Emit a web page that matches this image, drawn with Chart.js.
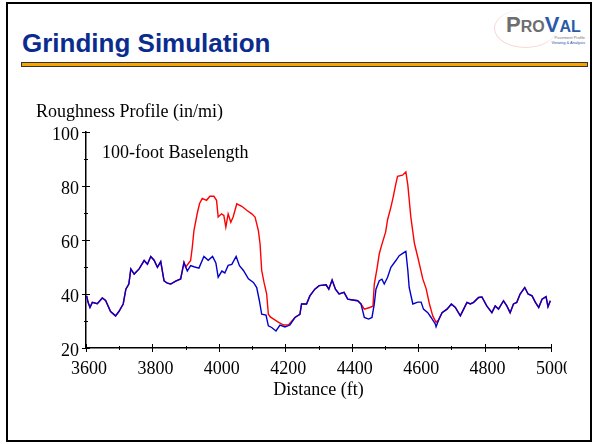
<!DOCTYPE html>
<html>
<head>
<meta charset="utf-8">
<script src="https://cdn.jsdelivr.net/npm/chart.js@4.4.1/dist/chart.umd.min.js"></script>
<style>
html,body{margin:0;padding:0;background:#fff;}
#slide{position:relative;width:596px;height:444px;overflow:hidden;background:#fff;}
#frame{position:absolute;left:6px;top:2px;width:582px;height:436px;border:2px solid #000;}
#title{position:absolute;left:22px;top:30px;font:bold 26px/26px "Liberation Sans",Arial,sans-serif;color:#0b2c8f;white-space:nowrap;}
#rule{position:absolute;left:21px;top:62px;width:565px;height:3px;background:#f7a400;border:1px solid #333;}
#logo{position:absolute;left:500px;top:12px;width:88px;height:34px;}
#logo .arc{position:absolute;left:-6px;top:-3px;width:62px;height:38px;border-radius:50%;border-left:1px solid rgba(220,60,60,0.2);border-bottom:1px solid rgba(220,60,60,0.2);}
#logo .name{position:absolute;left:6px;top:2px;font:bold 22px/22px "Liberation Sans",Arial,sans-serif;white-space:nowrap;}
#logo .pro{color:#6e6e6e;}
#logo .val{color:#2a5aa8;}
#logo .sm{font-size:16px;}
#logo .tag{position:absolute;right:3px;font:4px/5px "Liberation Sans",Arial,sans-serif;color:#777;white-space:nowrap;}
#ylab{position:absolute;left:36px;top:102px;font:18px/18px "Liberation Serif","Times New Roman",serif;color:#000;white-space:nowrap;}
#note{position:absolute;left:102px;top:143px;font:18px/18px "Liberation Serif","Times New Roman",serif;color:#000;white-space:nowrap;}
#wrap{position:absolute;left:0;top:0;width:567px;height:444px;}
</style>
</head>
<body>
<div id="slide">
  <div id="frame"></div>
  <div id="title">Grinding Simulation</div>
  <div id="rule"></div>
  <div id="logo">
    <div class="arc"></div>
    <div class="name"><span class="pro">P<span class="sm">RO</span></span><span class="val">V<span class="sm">AL</span></span></div>
    <div class="tag" style="top:23px;">Pavement Profile</div>
    <div class="tag" style="top:28px;color:#2a5aa8;">Viewing &amp; Analysis</div>
  </div>
  <div id="wrap"><canvas id="c"></canvas></div>
  <div id="ylab">Roughness Profile (in/mi)</div>
  <div id="note">100-foot Baselength</div>
</div>
<script>
// Blue profile (after grinding)
const blueDistance = [3602,3606,3612,3619,3634,3649,3659,3674,3689,3699,3712,3720,3729,3735,3745,3760,3775,3785,3795,3805,3815,3825,3835,3845,3855,3870,3885,3895,3905,3915,3925,3940,3955,3968,3981,3991,3998,4009,4018,4028,4039,4052,4062,4074,4089,4104,4114,4122,4129,4142,4149,4159,4172,4184,4199,4214,4229,4244,4249,4264,4274,4289,4302,4323,4331,4341,4351,4362,4377,4388,4403,4418,4428,4438,4451,4461,4468,4473,4483,4491,4498,4508,4518,4533,4543,4558,4563,4569,4573,4584,4599,4609,4616,4629,4639,4652,4654,4662,4672,4687,4700,4712,4727,4737,4747,4757,4767,4782,4792,4807,4822,4832,4842,4857,4867,4877,4887,4897,4907,4921,4931,4943,4953,4963,4973,4985,4991,4998];
const blueRoughness = [39.3,37.0,35.0,36.9,36.4,38.5,37.6,33.5,31.9,33.5,36.3,41.8,43.7,49.3,47.4,49.3,52.4,51.0,53.9,52.5,49.9,52.0,44.9,44.0,43.7,44.8,45.6,51.7,48.5,50.5,50.1,49.6,53.9,52.5,53.9,51.5,46.2,48.5,47.8,50.6,51.0,53.9,50.5,48.7,45.6,44.3,42.4,37.5,32.5,32.2,28.2,27.6,26.3,28.5,27.8,28.5,31.3,32.5,36.3,36.3,39.3,41.8,43.1,43.4,41.8,45.2,41.8,40.0,40.6,38.1,37.8,37.5,36.3,31.3,30.7,31.3,36.3,41.8,44.9,45.5,43.7,46.2,49.9,52.4,54.2,55.4,55.8,48.7,42.4,36.3,37.0,37.0,34.4,33.1,31.3,28.8,27.9,30.5,33.1,34.4,36.3,35.0,31.9,34.4,36.9,36.3,36.9,38.7,38.9,35.5,33.1,35.6,34.4,37.5,35.6,33.1,36.3,36.9,40.0,42.4,40.0,39.3,36.9,35.0,38.1,39.0,35.3,37.5];

// Red profile (before grinding)
const redDistance = [3602,3606,3612,3619,3634,3649,3659,3674,3689,3699,3712,3720,3729,3735,3745,3760,3775,3785,3795,3805,3815,3825,3835,3845,3855,3870,3885,3895,3900,3915,3920,3925,3935,3942,3950,3963,3973,3985,3993,3998,4008,4015,4021,4028,4036,4043,4054,4069,4084,4099,4109,4119,4124,4129,4136,4144,4149,4155,4165,4180,4195,4210,4229,4244,4249,4264,4274,4289,4302,4323,4331,4341,4351,4362,4377,4388,4403,4418,4428,4438,4454,4464,4468,4476,4483,4490,4502,4508,4518,4525,4533,4538,4553,4563,4569,4578,4589,4599,4614,4624,4634,4644,4654,4662,4672,4687,4700,4712,4727,4737,4747,4757,4767,4782,4792,4807,4822,4832,4842,4857,4867,4877,4887,4897,4907,4921,4931,4943,4953,4963,4973,4985,4991,4998];
const redRoughness = [39.3,37.0,35.0,36.9,36.4,38.5,37.6,33.5,31.9,33.5,36.3,41.8,43.7,49.3,47.4,49.3,52.4,51.0,53.9,52.5,49.9,52.0,44.9,44.0,43.7,44.8,45.6,51.7,49.9,52.4,57.3,63.5,69.9,73.5,75.4,74.7,76.2,76.2,74.7,68.5,69.7,69.1,64.8,69.7,66.6,68.5,73.4,72.5,71.0,69.7,68.5,63.5,58.6,48.7,44.3,40.0,32.5,31.5,30.7,29.5,28.5,28.6,31.3,32.5,36.3,36.3,39.3,41.8,43.1,43.4,41.8,45.2,41.8,40.0,40.6,38.1,37.8,37.5,36.3,34.4,35.0,35.5,43.7,49.3,54.9,58.0,62.9,67.5,72.2,76.0,80.9,83.6,84.0,85.2,80.3,68.5,58.6,53.6,45.6,42.0,36.3,31.9,29.5,30.5,33.1,34.4,36.3,35.0,31.9,34.4,36.9,36.3,36.9,38.7,38.9,35.5,33.1,35.6,34.4,37.5,35.6,33.1,36.3,36.9,40.0,42.4,40.0,39.3,36.9,35.0,38.1,39.0,35.3,37.5];

// Axis ticks
const xTickLabels = [3600,3800,4000,4200,4400,4600,4800,5000];
const xMinorTicks = [3700,3900,4100,4300,4500,4700,4900];
const yTickLabels = [20,40,60,80,100];
const yMinorTicks = [30,50,70,90];

const toPoints = (xs, ys) => xs.map((d, i) => ({x: d, y: ys[i]}));

const crossTicks = {
  id: 'crossTicks',
  afterDraw(chart) {
    const {ctx, chartArea: a, scales: {x, y}} = chart;
    ctx.save();
    ctx.strokeStyle = '#000';
    ctx.lineWidth = 1;
    ctx.beginPath();
    const xt = (v, len) => { const p = Math.round(x.getPixelForValue(v)) + 0.5; ctx.moveTo(p, a.bottom - len); ctx.lineTo(p, a.bottom + len); };
    const yt = (v, len) => { const p = Math.round(y.getPixelForValue(v)) + 0.5; ctx.moveTo(a.left - len, p); ctx.lineTo(a.left + len, p); };
    xTickLabels.forEach(v => xt(v, 4));
    xMinorTicks.forEach(v => xt(v, 2));
    yTickLabels.forEach(v => yt(v, 4));
    yMinorTicks.forEach(v => yt(v, 2));
    ctx.stroke();
    ctx.restore();
  }
};

const serif = '"Liberation Serif","Times New Roman",serif';

new Chart(document.getElementById('c'), {
  type: 'line',
  data: {
    datasets: [
      {label: 'After grinding', data: toPoints(blueDistance, blueRoughness), borderColor: '#0000cc', borderWidth: 1.4, pointRadius: 0, tension: 0, fill: false},
      {label: 'Before grinding', data: toPoints(redDistance, redRoughness), borderColor: '#ff0000', borderWidth: 1.4, pointRadius: 0, tension: 0, fill: false}
    ]
  },
  options: {
    responsive: true,
    maintainAspectRatio: false,
    animation: false,
    layout: {padding: {left: 30, right: 16, top: 132, bottom: 36}},
    plugins: {legend: {display: false}, tooltip: {enabled: false}, title: {display: false}},
    scales: {
      x: {
        type: 'linear', min: 3600, max: 5000,
        afterBuildTicks: s => { s.ticks = xTickLabels.map(v => ({value: v})); },
        afterFit: s => { s.height = 60; s.paddingLeft = 0; s.paddingRight = 0; },
        grid: {display: false, drawTicks: false},
        border: {display: true, color: '#000', width: 1.5},
        ticks: {color: '#000', padding: 10, labelOffset: 3, maxRotation: 0, autoSkip: false, font: {family: serif, size: 18}, callback: v => String(v)},
        title: {display: true, text: 'Distance (ft)', color: '#000', font: {family: serif, size: 18}, padding: {top: 0, bottom: 7}}
      },
      y: {
        type: 'linear', min: 20, max: 100,
        afterBuildTicks: s => { s.ticks = yTickLabels.map(v => ({value: v})); },
        afterFit: s => { s.width = 56; s.paddingTop = 0; s.paddingBottom = 0; },
        grid: {display: false, drawTicks: false},
        border: {display: true, color: '#000', width: 1.5},
        ticks: {color: '#000', padding: 7, labelOffset: 3, autoSkip: false, font: {family: serif, size: 18}, callback: v => String(v)}
      }
    }
  },
  plugins: [crossTicks]
});
</script>
</body>
</html>
